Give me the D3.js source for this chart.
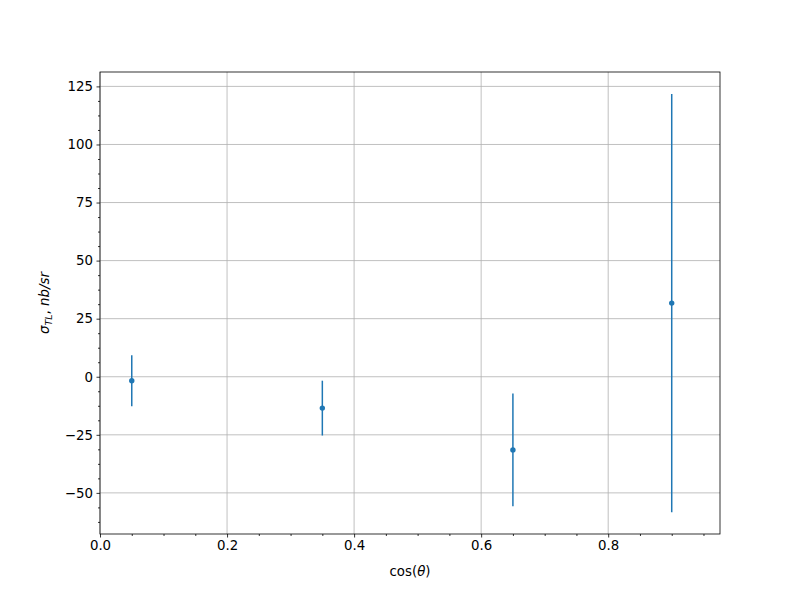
<!DOCTYPE html>
<html><head><meta charset="utf-8">
<script src="https://cdn.jsdelivr.net/npm/d3@7"></script>
<style>body{margin:0;background:#fff}svg{display:block}text{font-family:"DejaVu Sans",sans-serif}</style>
</head><body>
<svg id="c" width="800" height="600"></svg>
<script>
const cosTheta = [0.05, 0.35, 0.65, 0.9];
const sigmaTL = [-1.7, -13.5, -31.5, 31.7];
const sigmaErr = [11.0, 11.8, 24.3, 90.0];
const xTicks = [0.0, 0.2, 0.4, 0.6, 0.8];
const yTicks = [-50, -25, 0, 25, 50, 75, 100, 125];

const svg = d3.select("#c");
const L = 100, R = 720, T = 72, B = 534;
const x = d3.scaleLinear().domain([0, 0.976]).range([L, R]);
const y = d3.scaleLinear().domain([-67.7, 131.2]).range([B, T]);
const color = "#1f77b4";

// grid
const g = svg.append("g");
g.selectAll(".gx").data(xTicks).enter().append("line")
  .attr("x1", d => x(d)).attr("x2", d => x(d)).attr("y1", T).attr("y2", B)
  .attr("stroke", "#b0b0b0").attr("stroke-width", 0.8);
g.selectAll(".gy").data(yTicks).enter().append("line")
  .attr("x1", L).attr("x2", R).attr("y1", d => y(d)).attr("y2", d => y(d))
  .attr("stroke", "#b0b0b0").attr("stroke-width", 0.8);

// axes
const xMinor = d3.range(0, 0.976, 0.05).filter(v => Math.abs(v / 0.2 - Math.round(v / 0.2)) > 1e-6);
const yMinor = d3.range(-62.5, 131.2, 6.25).filter(v => Math.abs(v / 25 - Math.round(v / 25)) > 1e-6);

svg.append("g").attr("transform", `translate(0,${B})`)
  .call(d3.axisBottom(x).tickValues(xTicks).tickFormat(d3.format(".1f")).tickSize(3.5).tickPadding(3.5));
svg.append("g").attr("transform", `translate(0,${B})`)
  .call(d3.axisBottom(x).tickValues(xMinor).tickFormat("").tickSize(2));
svg.append("g").attr("transform", `translate(${L},0)`)
  .call(d3.axisLeft(y).tickValues(yTicks).tickFormat(d => d < 0 ? "\u2212" + Math.abs(d) : d).tickSize(3.5).tickPadding(3.5));
svg.append("g").attr("transform", `translate(${L},0)`)
  .call(d3.axisLeft(y).tickValues(yMinor).tickFormat("").tickSize(2));
svg.selectAll(".domain").remove();
svg.selectAll(".tick line").attr("stroke", "#000").attr("stroke-width", 0.8);
svg.selectAll(".tick text").attr("font-size", "13.33px").attr("fill", "#000")
  .style("font-family", "DejaVu Sans");

// error bars
const pts = cosTheta.map((c, i) => ({x: c, y: sigmaTL[i], e: sigmaErr[i]}));
svg.append("g").selectAll("line").data(pts).enter().append("line")
  .attr("x1", d => x(d.x)).attr("x2", d => x(d.x))
  .attr("y1", d => y(d.y - d.e)).attr("y2", d => y(d.y + d.e))
  .attr("stroke", color).attr("stroke-width", 1.5);
svg.append("g").selectAll("circle").data(pts).enter().append("circle")
  .attr("cx", d => x(d.x)).attr("cy", d => y(d.y)).attr("r", 2.7).attr("fill", color);

// spines
svg.append("rect").attr("x", L).attr("y", T).attr("width", R - L).attr("height", B - T)
  .attr("fill", "none").attr("stroke", "#000").attr("stroke-width", 0.8);

// labels
const xl = svg.append("text").attr("x", (L + R) / 2).attr("y", 576).attr("text-anchor", "middle")
  .attr("font-size", "13.33px");
xl.append("tspan").text("cos(");
xl.append("tspan").attr("font-style", "italic").text("\u03B8");
xl.append("tspan").text(")");

const yl = svg.append("text").attr("transform", `translate(49,${(T + B) / 2}) rotate(-90)`)
  .attr("text-anchor", "middle").attr("font-size", "13.33px").attr("font-style", "italic");
yl.append("tspan").text("\u03C3");
yl.append("tspan").attr("font-size", "9.5px").attr("dy", 3).text("TL");
yl.append("tspan").attr("dy", -3).attr("font-style", "normal").text(", ");
yl.append("tspan").text("nb/sr");
</script>
</body></html>
